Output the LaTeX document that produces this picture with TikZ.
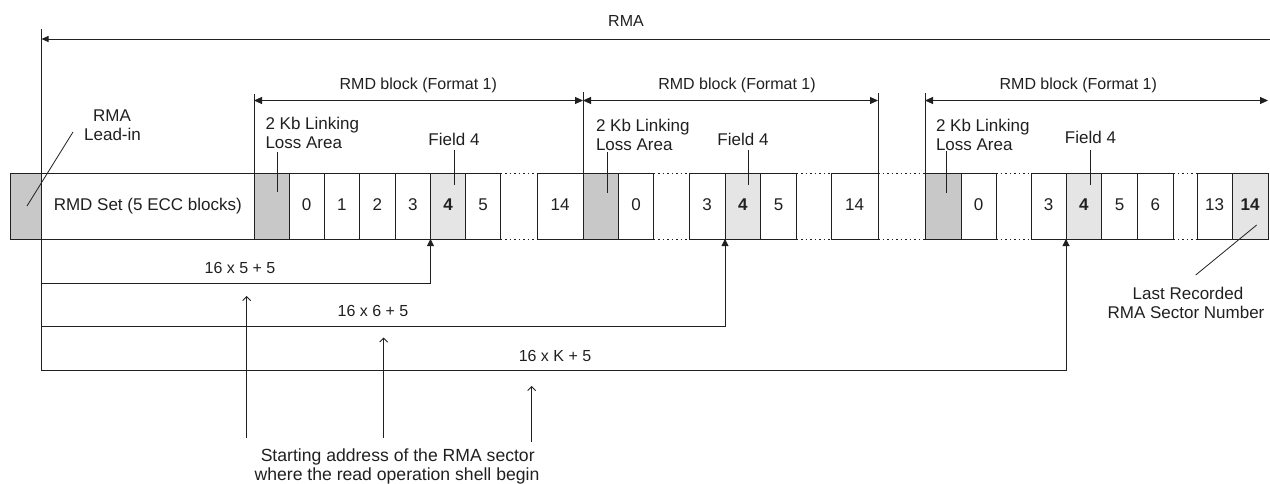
\documentclass[tikz,border=0pt]{standalone}
\usepackage{fontspec}
\setmainfont{Liberation Sans}
\usetikzlibrary{arrows.meta}
\definecolor{ink}{RGB}{32,32,32}
\definecolor{lossfill}{RGB}{200,200,200}
\definecolor{fieldfill}{RGB}{229,229,229}
% one sector cell of the recorded row: [style]{name}{left x}{right x}{label}
\newcommand{\rowcell}[5][]{%
  \node[cellbox,#1,minimum width={(#4-#3)*1pt}] (#2) at ({(#3+#4)/2},206) {#5};}
\begin{document}
\begin{tikzpicture}[x=1pt,y=-1pt,
  every node/.style={font=\fontsize{17}{19}\selectfont, text=ink, inner sep=0pt, outer sep=0pt},
  cellbox/.style={draw=ink, line width=1pt, fill=white, minimum height=66pt,
                  text height=11.8pt, text depth=2pt},
  lossbox/.style={fill=lossfill},
  fieldbox/.style={fill=fieldfill, font=\fontsize{17}{19}\selectfont\bfseries},
  lbl/.style={anchor=base},
  lbll/.style={anchor=base west},
  smalltxt/.style={font=\fontsize{16}{19}\selectfont},
  widetxt/.style={font=\fontsize{17.6}{19}\selectfont},
  wire/.style={draw=ink, line width=1pt},
  pointer/.style={draw=ink, line width=0.8pt},
  gapline/.style={draw=ink, line width=1pt, dash pattern=on 1.5pt off 3pt},
  dimarrow/.style={wire, {Triangle[length=8pt,width=7pt]}-{Triangle[length=8pt,width=7pt]}},
  leftarrow/.style={wire, {Triangle[length=7pt,width=6pt]}-},
  uparrow/.style={wire, -{Triangle[length=7pt,width=7pt]}},
  openup/.style={draw=ink, line width=0.9pt, -{Straight Barb[length=4pt,width=8pt]}}
]
\useasboundingbox (0,0) rectangle (1270,483);

% ---- recorded row ----
\rowcell[lossbox]{leadin}{10}{41.5}{}
\rowcell{rmdset}{41.5}{254}{RMD Set (5 ECC blocks)}
\rowcell[lossbox]{lossA}{254}{289}{}
\rowcell{aA}{289}{324}{0}
\rowcell{aB}{324}{359.5}{1}
\rowcell{aC}{359.5}{395}{2}
\rowcell{aD}{395}{430.5}{3}
\rowcell[fieldbox]{aE}{430.5}{465.5}{4}
\rowcell{aF}{465.5}{500.5}{5}
\rowcell{aG}{537}{583}{14}
\rowcell[lossbox]{lossB}{583}{618.5}{}
\rowcell{bA}{618.5}{653.5}{0}
\rowcell{bD}{689}{725}{3}
\rowcell[fieldbox]{bE}{725}{760.5}{4}
\rowcell{bF}{760.5}{796.5}{5}
\rowcell{bG}{831}{878}{14}
\rowcell[lossbox]{lossC}{925}{961}{}
\rowcell{cA}{961}{996}{0}
\rowcell{cD}{1031}{1066}{3}
\rowcell[fieldbox]{cE}{1066}{1101.5}{4}
\rowcell{cF}{1101.5}{1137.5}{5}
\rowcell{cG}{1137.5}{1173}{6}
\rowcell{cH}{1197}{1232}{13}
\rowcell[fieldbox]{cI}{1232}{1268}{14}

% omitted sectors
\foreach \l/\r in {aF/aG, bA/bD, bF/bG, bG/lossC, cA/cD, cG/cH} {
  \draw[gapline] (\l.north east) -- (\r.north west);
  \draw[gapline] (\l.south east) -- (\r.south west);
}

% ---- RMA extent ----
\coordinate (rmaTop) at (41.5,29);
\coordinate (rmaEnd) at (1270,39);
\coordinate (baseBot) at (41.5,370.7);
\draw[wire] (rmaTop) -- (baseBot);
\draw[leftarrow] (leadin.north east |- rmaEnd) -- (rmaEnd);
\node[lbl,smalltxt] (rmaTxt) at (626,26) {RMA};

% ---- RMD block extents ----
\coordinate (rmdRow) at (0,100.5);
\draw[wire] (lossA.north west) -- ++(0,-79);
\draw[wire] (lossB.north west) -- ++(0,-81);
\draw[wire] (bG.north east) -- ++(0,-80);
\draw[wire] (lossC.north west) -- ++(0,-80);
\draw[dimarrow] (lossA.north west |- rmdRow) -- (lossB.north west |- rmdRow);
\draw[dimarrow] (lossB.north west |- rmdRow) -- (bG.north east |- rmdRow);
\draw[dimarrow] (lossC.north west |- rmdRow) -- (cI.north east |- rmdRow);
\node[lbl,smalltxt] (blkA) at (418.3,89.7) {RMD block (Format 1)};
\node[lbl,smalltxt] (blkB) at (737,89.7) {RMD block (Format 1)};
\node[lbl,smalltxt] (blkC) at (1078.3,89.7) {RMD block (Format 1)};

% ---- lead-in label ----
\node[lbl] (leadA) at (112,121.7) {RMA};
\node[lbl] (leadB) at (112.5,140.7) {Lead-in};
\coordinate (leadFoot) at (73,132);
\coordinate (leadTip) at (27,206);
\draw[pointer] (leadFoot) -- (leadTip);

% ---- linking loss labels ----
\node[lbll] (lkA1) at (265.5,129.3) {2 Kb Linking};
\node[lbll] (lkA2) at (265.5,148.3) {Loss Area};
\node[lbll] (lkB1) at (596,131.5) {2 Kb Linking};
\node[lbll] (lkB2) at (596,150.5) {Loss Area};
\node[lbll] (lkC1) at (936,131.5) {2 Kb Linking};
\node[lbll] (lkC2) at (936,150.5) {Loss Area};
\coordinate (lkAtop) at (277,152);   \coordinate (lkAbot) at (277,192);
\coordinate (lkBtop) at (607,152);   \coordinate (lkBbot) at (607,193);
\coordinate (lkCtop) at (946,151);   \coordinate (lkCbot) at (946,193);
\draw[wire] (lkAtop) -- (lkAbot);
\draw[wire] (lkBtop) -- (lkBbot);
\draw[wire] (lkCtop) -- (lkCbot);

% ---- field 4 labels ----
\node[lbl] (fA) at (454,145) {Field 4};
\node[lbl] (fB) at (743,145) {Field 4};
\node[lbl] (fC) at (1090.5,143.5) {Field 4};
\coordinate (fAtop) at (454,150);    \coordinate (fAbot) at (454,185);
\coordinate (fBtop) at (748,150);    \coordinate (fBbot) at (748,185);
\coordinate (fCtop) at (1090,150);   \coordinate (fCbot) at (1090,185);
\draw[wire] (fAtop) -- (fAbot);
\draw[wire] (fBtop) -- (fBbot);
\draw[wire] (fCtop) -- (fCbot);

% ---- last recorded sector ----
\node[lbl] (lastA) at (1188,299) {Last Recorded};
\node[lbl] (lastB) at (1186,318.3) {RMA Sector Number};
\coordinate (lastFoot) at (1195.7,275);
\coordinate (lastTip) at (1256.7,225);
\draw[pointer] (lastFoot) -- (lastTip);

% ---- start addresses ----
\coordinate (dA) at (41.5,283.7);
\coordinate (dB) at (41.5,326.3);
\coordinate (dC) at (41.5,370.7);
\draw[uparrow] (dA) -| (aE.south west);
\draw[uparrow] (dB) -| (bE.south west);
\draw[uparrow] (dC) -| (cE.south west);
\node[lbl,smalltxt] (eqA) at (240,273.3) {16 x 5 + 5};
\node[lbl,smalltxt] (eqB) at (373,316) {16 x 6 + 5};
\node[lbl,smalltxt] (eqC) at (555,361.7) {16 x K + 5};

\coordinate (pA0) at (246.7,438);   \coordinate (pA1) at (246.7,296);
\coordinate (pB0) at (383.7,438);   \coordinate (pB1) at (383.7,337.5);
\coordinate (pC0) at (531.7,441.7); \coordinate (pC1) at (531.7,386);
\draw[openup] (pA0) -- (pA1);
\draw[openup] (pB0) -- (pB1);
\draw[openup] (pC0) -- (pC1);
\node[lbl,widetxt] (noteA) at (397.7,461.7) {Starting address of the RMA sector};
\node[lbl,widetxt] (noteB) at (397,480.7) {where the read operation shell begin};
\end{tikzpicture}
\end{document}
